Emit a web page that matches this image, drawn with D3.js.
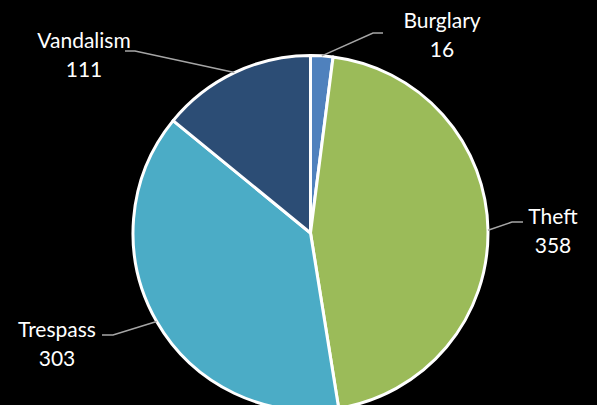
<!DOCTYPE html>
<html><head><meta charset="utf-8">
<script src="https://cdn.jsdelivr.net/npm/d3@7"></script>
<style>html,body{margin:0;padding:0;background:#000;}svg{display:block;}</style>
</head><body>
<svg id="c" width="597" height="405"></svg>
<script>
const categories = ["Burglary", "Theft", "Trespass", "Vandalism"];
const values = [16, 358, 303, 111];
const colors = ["#4f81bd", "#9bbb59", "#4bacc6", "#2c4d75"];

// label layout: elbow point and text anchor (layout config)
const labelLayout = {
  "Burglary":  {elbow: [373, 33], end: [383, 33], text: [442, 28]},
  "Theft":     {elbow: [512, 222], end: [523, 222], text: [553, 224]},
  "Trespass":  {elbow: [113, 335], end: [102, 335], text: [57, 337]},
  "Vandalism": {elbow: [135, 51], end: [125, 51], text: [84, 48]}
};

const W = 597, H = 405, cx = 310.5, cy = 233, R = 177.5;
const svg = d3.select("#c");
svg.append("rect").attr("width", W).attr("height", H).attr("fill", "#000");

const data = categories.map((c, i) => ({cat: c, value: values[i], color: colors[i]}));
const pie = d3.pie().value(d => d.value).sort(null);
const arcs = pie(data);
const arc = d3.arc().innerRadius(0).outerRadius(R);

const g = svg.append("g").attr("transform", `translate(${cx},${cy})`);
g.selectAll("path").data(arcs).join("path")
  .attr("d", arc)
  .attr("fill", d => d.data.color)
  .attr("stroke", "#fff").attr("stroke-width", 3).attr("stroke-linejoin", "round");

const font = "Lato, 'Open Sans', sans-serif";
arcs.forEach(a => {
  const L = labelLayout[a.data.cat];
  const mid = (a.startAngle + a.endAngle) / 2;
  const sx = cx + R * Math.sin(mid), sy = cy - R * Math.cos(mid);
  svg.append("polyline")
    .attr("points", [[sx, sy], L.elbow, L.end].map(p => p.join(",")).join(" "))
    .attr("fill", "none").attr("stroke", "#a6a6a6").attr("stroke-width", 1.5);
  const t = svg.append("text").attr("x", L.text[0]).attr("y", L.text[1])
    .attr("text-anchor", "middle").attr("fill", "#fff")
    .attr("font-family", font).attr("font-size", 21);
  t.append("tspan").attr("x", L.text[0]).text(a.data.cat);
  t.append("tspan").attr("x", L.text[0]).attr("dy", 29).text(a.data.value);
});
</script>
</body></html>
